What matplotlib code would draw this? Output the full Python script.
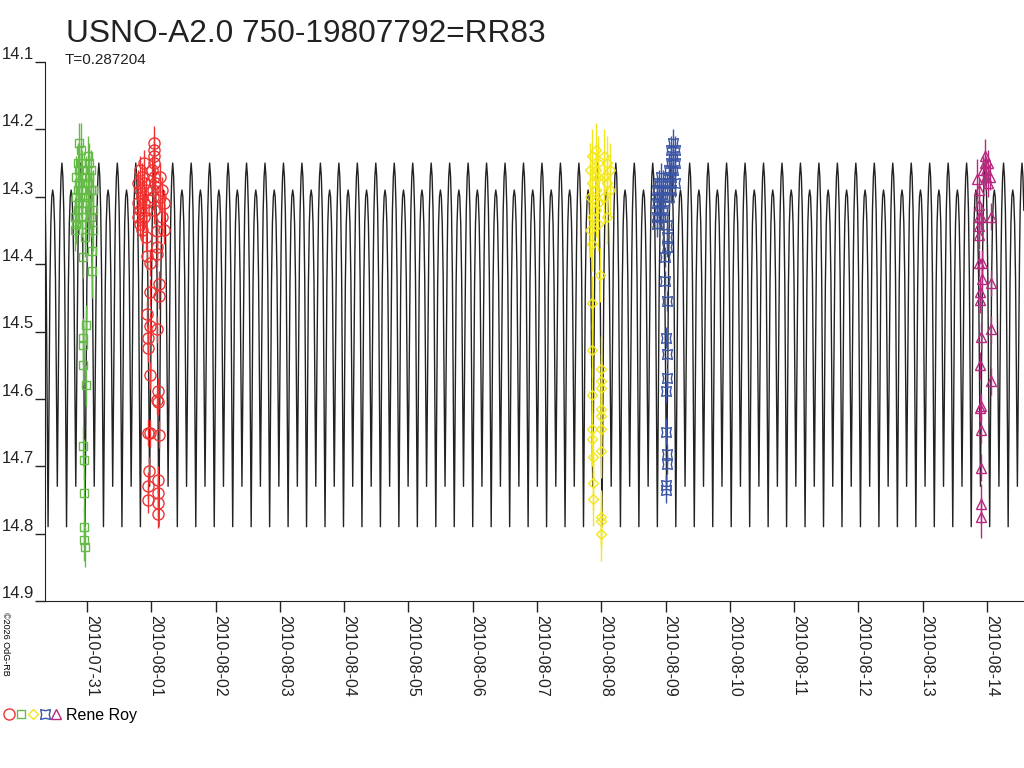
from datetime import datetime
import numpy as np
import matplotlib
matplotlib.use("Agg")
import matplotlib.pyplot as plt
import matplotlib.dates as mdates
from matplotlib.path import Path
from matplotlib.legend_handler import HandlerTuple

plt.rcParams['font.family'] = ['Liberation Sans', 'DejaVu Sans']

title = "USNO-A2.0 750-19807792=RR83"
period = 0.287204
observer = "Rene Roy"
base_date = datetime(2010, 7, 31)
x_range = (-0.653, 14.576)          # days from base_date
epoch_max = 0.1847                  # a tall maximum, days from base_date

# one cycle of the model light curve, phase 0 = tall maximum
tpl_phase = [0.00, 0.05, 0.10, 0.15, 0.20, 0.25, 0.30, 0.35, 0.40, 0.45, 0.50,
             0.55, 0.60, 0.65, 0.70, 0.75, 0.80, 0.85, 0.90, 0.95, 1.00]
tpl_mag = [14.25, 14.27, 14.32, 14.42, 14.60, 14.79, 14.60, 14.43, 14.34, 14.30, 14.29,
           14.30, 14.34, 14.42, 14.58, 14.73, 14.58, 14.42, 14.32, 14.27, 14.25]

# observations: (days from base_date, mag, error)
green = [(-0.187, 14.33, 0.03), (-0.187, 14.35, 0.03), (-0.163, 14.30, 0.03), (-0.163, 14.27, 0.03),
         (-0.163, 14.34, 0.03), (-0.140, 14.25, 0.03), (-0.140, 14.29, 0.03), (-0.140, 14.32, 0.03),
         (-0.117, 14.22, 0.03), (-0.117, 14.26, 0.03), (-0.117, 14.28, 0.03), (-0.117, 14.31, 0.03),
         (-0.093, 14.23, 0.04), (-0.093, 14.25, 0.03), (-0.093, 14.29, 0.03), (-0.070, 14.26, 0.03),
         (-0.070, 14.30, 0.03), (-0.070, 14.33, 0.03), (-0.031, 14.36, 0.03), (-0.057, 14.39, 0.03),
         (-0.020, 14.49, 0.03), (-0.057, 14.51, 0.03), (-0.057, 14.52, 0.03), (-0.057, 14.55, 0.03),
         (-0.020, 14.58, 0.03), (-0.057, 14.67, 0.03), (-0.042, 14.69, 0.03), (-0.042, 14.74, 0.03),
         (-0.039, 14.79, 0.03), (-0.039, 14.81, 0.03), (-0.031, 14.82, 0.03), (-0.008, 14.27, 0.03),
         (-0.008, 14.31, 0.03), (-0.008, 14.34, 0.03), (0.016, 14.24, 0.03), (0.016, 14.28, 0.03),
         (0.016, 14.30, 0.03), (0.039, 14.25, 0.03), (0.039, 14.27, 0.03), (0.039, 14.32, 0.03),
         (0.062, 14.26, 0.03), (0.062, 14.29, 0.03), (0.062, 14.33, 0.03), (0.082, 14.38, 0.04),
         (0.082, 14.41, 0.04), (0.101, 14.29, 0.03), (0.101, 14.32, 0.03), (0.101, 14.35, 0.03)]

red = [(0.793, 14.28, 0.02), (0.793, 14.31, 0.02), (0.793, 14.33, 0.02), (0.824, 14.26, 0.02),
       (0.824, 14.29, 0.02), (0.824, 14.32, 0.02), (0.824, 14.34, 0.02), (0.856, 14.27, 0.02),
       (0.856, 14.30, 0.02), (0.856, 14.35, 0.02), (0.887, 14.25, 0.02), (0.887, 14.28, 0.02),
       (0.887, 14.31, 0.02), (0.887, 14.33, 0.02), (0.918, 14.29, 0.02), (0.918, 14.32, 0.02),
       (0.918, 14.36, 0.02), (0.929, 14.388, 0.02), (0.980, 14.398, 0.02), (0.980, 14.442, 0.02),
       (0.938, 14.474, 0.02), (0.980, 14.492, 0.02), (0.954, 14.510, 0.02), (0.954, 14.525, 0.02),
       (0.980, 14.565, 0.02), (0.954, 14.650, 0.02), (0.980, 14.651, 0.02), (0.970, 14.707, 0.02),
       (0.954, 14.729, 0.02), (0.954, 14.750, 0.02), (1.010, 14.26, 0.02), (1.020, 14.29, 0.02),
       (1.030, 14.30, 0.02), (1.040, 14.25, 0.02), (1.050, 14.27, 0.02), (1.050, 14.32, 0.02),
       (1.048, 14.22, 0.025), (1.048, 14.23, 0.02), (1.048, 14.24, 0.02), (1.060, 14.28, 0.02),
       (1.085, 14.351, 0.02), (1.085, 14.374, 0.02), (1.085, 14.385, 0.02), (1.126, 14.430, 0.02),
       (1.126, 14.447, 0.02), (1.085, 14.497, 0.02), (1.110, 14.589, 0.02), (1.095, 14.602, 0.02),
       (1.110, 14.604, 0.02), (1.120, 14.653, 0.02), (1.110, 14.720, 0.02), (1.110, 14.740, 0.02),
       (1.110, 14.755, 0.02), (1.110, 14.771, 0.02), (1.135, 14.27, 0.02), (1.135, 14.30, 0.02),
       (1.167, 14.33, 0.02), (1.167, 14.29, 0.02), (1.198, 14.31, 0.02), (1.198, 14.35, 0.02)]

yellow = [(7.824, 14.26, 0.04), (7.824, 14.30, 0.04), (7.824, 14.35, 0.04), (7.855, 14.24, 0.04),
          (7.855, 14.28, 0.04), (7.855, 14.33, 0.04), (7.855, 14.37, 0.04), (7.860, 14.457, 0.04),
          (7.860, 14.528, 0.04), (7.860, 14.594, 0.04), (7.853, 14.644, 0.04), (7.860, 14.659, 0.04),
          (7.867, 14.687, 0.04), (7.867, 14.725, 0.04), (7.867, 14.749, 0.04), (7.917, 14.23, 0.04),
          (7.917, 14.26, 0.04), (7.917, 14.29, 0.04), (7.917, 14.32, 0.04), (7.948, 14.25, 0.04),
          (7.948, 14.27, 0.04), (7.948, 14.31, 0.04), (7.948, 14.34, 0.04), (7.979, 14.416, 0.04),
          (7.989, 14.556, 0.05), (7.989, 14.573, 0.04), (7.989, 14.584, 0.04), (7.995, 14.615, 0.04),
          (7.995, 14.626, 0.04), (7.995, 14.644, 0.04), (7.995, 14.677, 0.04), (7.995, 14.775, 0.04),
          (7.995, 14.781, 0.04), (7.995, 14.800, 0.04), (8.042, 14.24, 0.04), (8.042, 14.27, 0.04),
          (8.042, 14.30, 0.04), (8.088, 14.25, 0.04), (8.088, 14.28, 0.04), (8.088, 14.33, 0.04),
          (8.135, 14.26, 0.04), (8.135, 14.29, 0.04)]

blue = [(8.866, 14.29, 0.02), (8.866, 14.31, 0.02), (8.866, 14.33, 0.02), (8.866, 14.34, 0.02),
        (8.897, 14.28, 0.02), (8.897, 14.30, 0.02), (8.897, 14.32, 0.02), (8.928, 14.27, 0.02),
        (8.928, 14.29, 0.02), (8.928, 14.31, 0.02), (8.928, 14.33, 0.02), (8.959, 14.28, 0.02),
        (8.959, 14.30, 0.02), (8.959, 14.32, 0.02), (9.025, 14.342, 0.015), (9.025, 14.359, 0.015),
        (9.025, 14.374, 0.015), (8.990, 14.389, 0.015), (8.990, 14.425, 0.015), (9.018, 14.455, 0.015),
        (9.003, 14.509, 0.015), (9.025, 14.533, 0.015), (9.018, 14.569, 0.015), (9.003, 14.589, 0.015),
        (9.010, 14.649, 0.02), (9.018, 14.682, 0.015), (9.018, 14.697, 0.015), (9.010, 14.728, 0.015),
        (9.010, 14.735, 0.02), (9.054, 14.26, 0.02), (9.054, 14.28, 0.02), (9.054, 14.30, 0.02),
        (9.085, 14.23, 0.02), (9.085, 14.25, 0.02), (9.085, 14.27, 0.02), (9.085, 14.29, 0.02),
        (9.116, 14.22, 0.02), (9.116, 14.24, 0.02), (9.116, 14.26, 0.02), (9.148, 14.23, 0.02),
        (9.148, 14.25, 0.02), (9.148, 14.28, 0.02)]

magenta = [(13.968, 14.24, 0.025), (13.968, 14.25, 0.02), (13.990, 14.26, 0.02), (13.990, 14.27, 0.02),
           (14.015, 14.28, 0.02), (14.015, 14.25, 0.02), (13.945, 14.26, 0.02), (14.040, 14.27, 0.02),
           (13.848, 14.274, 0.03), (13.875, 14.290, 0.02), (13.875, 14.312, 0.02), (13.875, 14.330, 0.02),
           (13.905, 14.330, 0.02), (13.880, 14.344, 0.02), (13.880, 14.357, 0.02), (13.880, 14.399, 0.02),
           (13.917, 14.399, 0.02), (13.917, 14.422, 0.02), (13.890, 14.441, 0.02), (13.895, 14.453, 0.02),
           (13.905, 14.508, 0.02), (13.890, 14.550, 0.02), (13.900, 14.611, 0.02), (13.890, 14.614, 0.02),
           (13.900, 14.646, 0.02), (13.900, 14.702, 0.02), (13.900, 14.756, 0.03), (13.900, 14.776, 0.03),
           (14.061, 14.330, 0.02), (14.061, 14.428, 0.02), (14.061, 14.497, 0.02), (14.061, 14.574, 0.02)]

# concave square marker for the blue series
_a = np.deg2rad(np.arange(45, 405, 45))
_r = np.where(np.arange(8) % 2 == 0, 1.0, 0.55)
star4 = Path(np.column_stack([_r * np.cos(_a), _r * np.sin(_a)]).tolist() + [[_r[0] * np.cos(_a[0]), _r[0] * np.sin(_a[0])]], closed=True)

series = [
    (red, '#ee3333', 'o', 8),
    (green, '#66bb48', 's', 5.5),
    (yellow, '#f2e61e', 'D', 5.5),
    (blue, '#3a55a6', star4, 7),
    (magenta, '#b8287f', '^', 7),
]

fig = plt.figure(figsize=(10.24, 7.68), dpi=100)
ax = fig.add_axes([45 / 1024, 1 - 601 / 768, 1 - 45 / 1024, 539 / 768])

base = mdates.date2num(base_date)
t = np.arange(x_range[0], x_range[1], period / 60)
ph = ((t - epoch_max) / period) % 1.0
ax.plot(base + t, np.interp(ph, tpl_phase, tpl_mag), color='#222222', lw=1.0, zorder=1)

handles = []
for data, col, mk, ms in series:
    d = np.array(data)
    ax.errorbar(base + d[:, 0], d[:, 1], yerr=d[:, 2], fmt='none', ecolor=col, elinewidth=1, zorder=2)
    h, = ax.plot(base + d[:, 0], d[:, 1], ls='none', marker=mk, ms=ms, mfc='none', mec=col, mew=1, zorder=3)
    handles.append(h)

ax.set_xlim(base + x_range[0], base + x_range[1])
ax.set_ylim(14.9, 14.1)
ax.set_yticks(np.arange(14.1, 14.95, 0.1))
ax.yaxis.set_major_formatter(matplotlib.ticker.FormatStrFormatter('%.1f'))
ax.xaxis.set_major_locator(mdates.DayLocator())
ax.xaxis.set_major_formatter(mdates.DateFormatter('%Y-%m-%d'))
ax.tick_params(axis='y', length=7, width=1, pad=1, labelsize=12, colors='#222222')
ax.tick_params(axis='x', length=8, width=1, pad=2, labelsize=11.5, colors='#222222')
for lab in ax.get_yticklabels():
    lab.set_va('bottom')
for lab in ax.get_xticklabels():
    lab.set_rotation(270)
    lab.set_ha('left')
    lab.set_va('baseline')
    lab.set_rotation_mode('anchor')
for s in ('top', 'right'):
    ax.spines[s].set_visible(False)
for s in ('left', 'bottom'):
    ax.spines[s].set_color('#222222')

fig.text(66 / 1024, 1 - 42 / 768, title, fontsize=22.8, color='#222222', va='baseline')
fig.text(65 / 1024, 1 - 64 / 768, "T=0.287204", fontsize=11, color='#222222', va='baseline')
fig.text(1 / 1024, 1 - 612 / 768, "\u00a92026 OdG-RB", fontsize=6.5, rotation=270, va='top', ha='left')

fig.legend([tuple(handles)], [observer], handler_map={tuple: HandlerTuple(ndivide=None, pad=0.1)},
           loc='lower left', bbox_to_anchor=(4 / 1024, 1 - 723 / 768), frameon=False,
           fontsize=11.5, handlelength=3.6, handletextpad=0.3, borderpad=0, borderaxespad=0)

fig.savefig("out.png", dpi=100)
